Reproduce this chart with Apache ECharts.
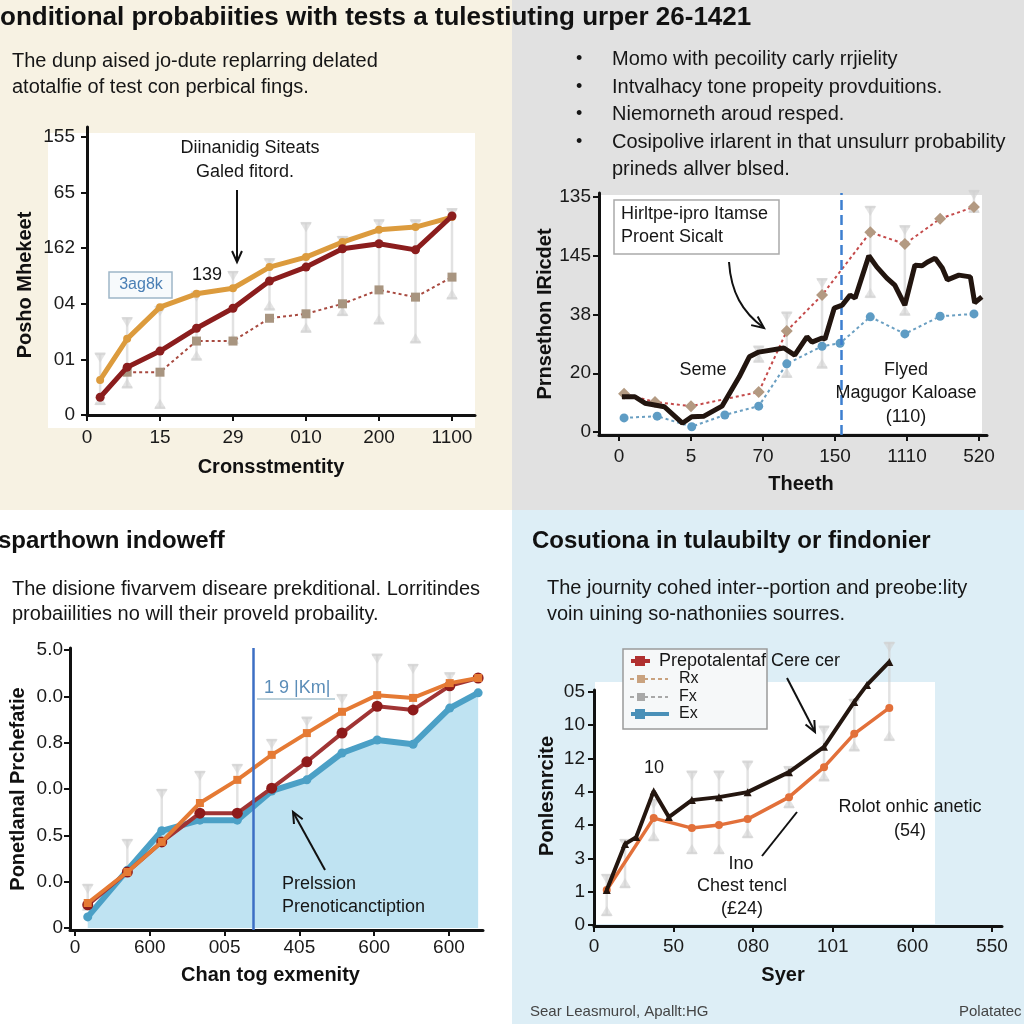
<!DOCTYPE html>
<html><head><meta charset="utf-8">
<script src="https://cdn.jsdelivr.net/npm/echarts@6/dist/echarts.min.js"></script>
<style>html,body{margin:0;padding:0;background:#fff}#c{width:1024px;height:1024px}</style>
</head><body><div id="c"></div>
<script>
// ---------- Panel 1 (top-left) ----------
const p1XLabels = ['0','15','29','010','200','1100'];
const p1YLabels = ['0','01','04','162','65','155'];
const p1X = [0.18,0.55,1.0,1.5,2.0,2.5,3.0,3.5,4.0,4.5,5.0];
const p1Orange = [0.63,1.37,1.94,2.18,2.28,2.66,2.84,3.11,3.33,3.38,3.56];
const p1Red = [0.32,0.86,1.15,1.56,1.92,2.41,2.66,2.99,3.08,2.97,3.58];
const p1DotX = [0.55,1.0,1.5,2.0,2.5,3.0,3.5,4.0,4.5,5.0];
const p1Dot = [0.77,0.77,1.33,1.33,1.74,1.82,2.0,2.25,2.12,2.48];
const p1ErrLo = [0.2,0.5,0.13,1.0,1.3,1.9,1.5,1.8,1.65,1.31,2.1];
const p1ErrHi = [1.1,1.74,1.94,2.2,2.57,2.8,3.45,3.2,3.5,3.5,3.7];

// ---------- Panel 2 (top-right) ----------
const p2XLabels = ['0','5','70','150','1110','520'];
const p2YLabels = ['0','20','38','145','135'];
const p2BlackX = [0.04,0.22,0.36,0.63,0.88,1.01,1.18,1.43,1.67,1.81,1.94,2.29,2.44,2.61,2.68,2.82,2.86,2.99,3.10,3.21,3.28,3.47,3.58,3.72,3.83,3.97,4.11,4.21,4.28,4.39,4.49,4.56,4.72,4.88,4.94,5.04];
const p2Black = [0.60,0.60,0.49,0.43,0.15,0.26,0.27,0.44,0.94,1.28,1.36,1.43,1.31,1.62,1.53,1.60,1.58,2.11,2.16,2.33,2.28,3.00,2.81,2.62,2.50,2.16,2.84,2.83,2.89,2.96,2.79,2.59,2.67,2.64,2.20,2.30];
const p2RedX = [0.07,0.5,1.0,1.94,2.33,2.82,3.49,3.97,4.46,4.93];
const p2Red = [0.65,0.51,0.44,0.68,1.72,2.33,3.40,3.20,3.63,3.83];
const p2BlueX = [0.07,0.53,1.01,1.47,1.94,2.33,2.82,3.07,3.49,3.97,4.46,4.93];
const p2Blue = [0.24,0.27,0.09,0.29,0.44,1.16,1.46,1.51,1.96,1.67,1.97,2.01];
const p2ErrX = [1.94,2.33,2.82,3.49,3.97,4.93];
const p2ErrLo = [1.2,0.94,1.1,2.3,2.0,3.75];
const p2ErrHi = [1.45,2.03,2.6,3.83,3.5,4.1];
const p2Marker = 3.08;

// ---------- Panel 3 (bottom-left) ----------
const p3XLabels = ['0','600','005','405','600','600'];
const p3YLabels = ['0','0.0','0.5','0.0','0.8','0.0','5.0'];
const p3X = [0.17,0.70,1.16,1.67,2.17,2.63,3.10,3.57,4.04,4.52,5.01,5.39];
const p3Blue = [0.24,1.25,2.10,2.33,2.33,2.96,3.20,3.78,4.06,3.97,4.75,5.08];
const p3Orange = [0.54,1.21,1.86,2.70,3.20,3.74,4.21,4.67,5.03,4.97,5.29,5.40];
const p3Red = [0.50,1.21,1.86,2.48,2.48,3.02,3.59,4.21,4.79,4.71,5.23,5.40];
const p3ErrLo = [0.4,0.45,1.25,1.73,1.64,2.4,2.48,3.26,3.56,3.52,4.21];
const p3ErrHi = [0.93,1.9,2.98,3.37,3.52,4.06,4.54,5.03,5.9,5.68,5.5];
const p3Marker = 2.38;

// ---------- Panel 4 (bottom-right) ----------
const p4XLabels = ['0','50','080','101','600','550'];
const p4YLabels = ['0','1','3','4','4','12','10','05'];
const p4BlackX = [0.16,0.39,0.53,0.75,0.94,1.23,1.57,1.93,2.45,2.89,3.27,3.43,3.71];
const p4Black = [1.05,2.43,2.64,4.02,3.24,3.75,3.84,3.99,4.59,5.35,6.70,7.21,7.90];
const p4OrangeX = [0.16,0.75,1.23,1.57,1.93,2.45,2.89,3.27,3.71];
const p4Orange = [1.05,3.21,2.91,3.00,3.18,3.84,4.74,5.74,6.52];
const p4ErrX = [0.16,0.39,0.75,1.23,1.57,1.93,2.45,2.89,3.27,3.71];
const p4ErrLo = [0.3,1.14,2.55,2.16,2.16,2.64,3.54,4.35,5.25,5.56];
const p4ErrHi = [1.5,2.55,3.75,4.6,4.6,4.9,4.74,5.95,6.76,8.47];
const p4Marker = 2.90;

const FONT = '"Liberation Sans", Arial, Helvetica, sans-serif';
const zip = (xs, ys) => xs.map((x, i) => [x, ys[i]]);
const zip3 = (xs, a, b) => xs.map((x, i) => [x, a[i], b[i]]);
const idx = arr => arr.map((_, i) => i);

function axisCfg(gi, labels, min, max, name, gap, pad, margin) {
  return {
    type: 'value', gridIndex: gi, min, max,
    axisLine: {show: true, onZero: false, lineStyle: {color: '#111', width: 3}},
    axisTick: {show: true, customValues: idx(labels), length: 6, lineStyle: {color: '#111', width: 2}},
    axisLabel: {customValues: idx(labels), formatter: v => labels[Math.round(v)], fontSize: 19, color: '#1a1a1a', margin, fontFamily: FONT},
    splitLine: {show: false},
    name, nameLocation: 'middle', nameGap: gap,
    nameTextStyle: {fontWeight: 'bold', fontSize: 20, color: '#111', fontFamily: FONT, padding: pad}
  };
}

function errRender(params, api) {
  const x = api.value(0), lo = api.value(1), hi = api.value(2);
  const a = api.coord([x, lo]), b = api.coord([x, hi]);
  const w = 5, st = {stroke: '#cfcfcf', lineWidth: 2.5, opacity: 0.6};
  const f = {fill: '#d2d2d2', opacity: 0.6};
  return {type: 'group', children: [
    {type: 'line', shape: {x1: a[0], y1: a[1], x2: b[0], y2: b[1]}, style: st},
    {type: 'line', shape: {x1: a[0] - w, y1: a[1], x2: a[0] + w, y2: a[1]}, style: st},
    {type: 'line', shape: {x1: b[0] - w, y1: b[1], x2: b[0] + w, y2: b[1]}, style: st},
    {type: 'polygon', shape: {points: [[a[0], a[1] - 9], [a[0] - 6, a[1] + 1], [a[0] + 6, a[1] + 1]]}, style: f},
    {type: 'polygon', shape: {points: [[b[0], b[1] + 9], [b[0] - 6, b[1] - 1], [b[0] + 6, b[1] - 1]]}, style: f}
  ]};
}
function errSeries(i, data) {
  return {type: 'custom', xAxisIndex: i, yAxisIndex: i, renderItem: errRender, data, clip: false, z: 1, silent: true};
}

function txt(x, y, text, o) {
  o = o || {};
  return {type: 'text', x, y, z: 100, silent: true, style: {text, fill: o.fill || '#161616', font: (o.bold ? 'bold ' : '') + (o.size || 20) + 'px ' + FONT, textAlign: o.align || 'left', textVerticalAlign: 'middle'}};
}
function arrow(x1, y1, x2, y2, s) {
  s = s || 11;
  const a = Math.atan2(y2 - y1, x2 - x1);
  const bx = x2 - s * Math.cos(a), by = y2 - s * Math.sin(a);
  const px = -Math.sin(a) * s * 0.45, py = Math.cos(a) * s * 0.45;
  return [
    {type: 'line', z: 90, shape: {x1, y1, x2: x2 - 2 * Math.cos(a), y2: y2 - 2 * Math.sin(a)}, style: {stroke: '#111', lineWidth: 2}},
    {type: 'polyline', z: 90, shape: {points: [[bx + px, by + py], [x2, y2], [bx - px, by - py]]}, style: {stroke: '#111', lineWidth: 2, fill: null}}
  ];
}
function rect(x, y, w, h, fill, stroke, z) {
  return {type: 'rect', z: z == null ? -10 : z, silent: true, shape: {x, y, width: w, height: h}, style: {fill, stroke: stroke || null, lineWidth: 1.5}};
}

// curved arrow in panel 2
const curveHead = (() => {
  const ex = 764, ey = 328, cx = 748, cy = 316;
  const a = Math.atan2(ey - cy, ex - cx), s = 12;
  const bx = ex - s * Math.cos(a), by = ey - s * Math.sin(a);
  const px = -Math.sin(a) * s * 0.45, py = Math.cos(a) * s * 0.45;
  return {type: 'polyline', z: 90, shape: {points: [[bx + px, by + py], [ex, ey], [bx - px, by - py]]}, style: {stroke: '#111', lineWidth: 2, fill: null}};
})();

const graphics = [
  // backgrounds
  rect(0, 0, 512, 510, '#f7f2e3'),
  rect(512, 0, 512, 510, '#e1e1e1'),
  rect(0, 510, 512, 514, '#ffffff'),
  rect(512, 510, 512, 514, '#ddeef6'),
  rect(48, 133, 427, 295, '#ffffff', null, -9),
  rect(600, 195, 382, 238, '#ffffff', null, -9),
  rect(595, 682, 340, 242, '#ffffff', null, -9),
  // main title
  txt(0, 18, 'onditional probabiities with tests a tulestiuting urper 26-1421', {bold: true, size: 26, fill: '#111'}),
  // panel 1 text
  txt(12, 61, 'The dunp aised jo-dute replarring delated'),
  txt(12, 87, 'atotalfie of test con perbical fings.'),
  txt(250, 148, 'Diinanidig Siteats', {align: 'center', size: 18}),
  txt(245, 172, 'Galed fitord.', {align: 'center', size: 18}),
  ...arrow(237, 190, 237, 262),
  txt(207, 275, '139', {align: 'center', size: 18}),
  rect(109, 272, 63, 26, '#f7fafc', '#9fb6c8', 60),
  txt(141, 285, '3ag8k', {align: 'center', size: 16, fill: '#4a7fb5'}),
  // panel 2 bullets
  ...[59, 87, 114, 142].map(y => txt(576, y, '•', {size: 18})),
  txt(612, 59, 'Momo with pecoility carly rrjielity'),
  txt(612, 87, 'Intvalhacy tone propeity provduitions.'),
  txt(612, 114, 'Niemorneth aroud resped.'),
  txt(612, 142, 'Cosipolive irlarent in that unsulurr probability'),
  txt(612, 169, 'prineds allver blsed.'),
  rect(614, 200, 165, 54, '#ffffff', '#aaaaaa', 60),
  txt(621, 214, 'Hirltpe-ipro Itamse', {size: 18}),
  txt(621, 237, 'Proent Sicalt', {size: 18}),
  {type: 'bezierCurve', z: 90, shape: {x1: 729, y1: 262, cpx1: 731, cpy1: 292, cpx2: 742, cpy2: 312, x2: 764, y2: 328}, style: {stroke: '#111', lineWidth: 2, fill: null}},
  curveHead,
  txt(703, 370, 'Seme', {align: 'center', size: 18}),
  txt(906, 370, 'Flyed', {align: 'center', size: 18}),
  txt(906, 393, 'Magugor Kaloase', {align: 'center', size: 18}),
  txt(906, 417, '(110)', {align: 'center', size: 18}),
  // panel 3 text
  txt(-2, 541, 'sparthown indoweff', {bold: true, size: 24, fill: '#111'}),
  txt(12, 589, 'The disione fivarvem diseare prekditional. Lorritindes'),
  txt(12, 614, 'probaiilities no will their proveld probaility.'),
  txt(264, 688, '1 9 |Km|', {size: 18, fill: '#5b8db8'}),
  {type: 'line', z: 60, shape: {x1: 257, y1: 699, x2: 335, y2: 699}, style: {stroke: '#a9c3cf', lineWidth: 1.5}},
  ...arrow(325, 870, 293, 812),
  txt(282, 884, 'Prelssion', {size: 18}),
  txt(282, 907, 'Prenoticanctiption', {size: 18}),
  // panel 4 text
  txt(532, 541, 'Cosutiona in tulaubilty or findonier', {bold: true, size: 24, fill: '#111'}),
  txt(547, 588, 'The journity cohed inter--portion and preobe:lity'),
  txt(547, 614, 'voin uining so-nathoniies sourres.'),
  rect(623, 649, 144, 80, '#f6f8f9', '#9a9a9a', 60),
  {type: 'line', z: 70, shape: {x1: 631, y1: 661, x2: 650, y2: 661}, style: {stroke: '#b03030', lineWidth: 4}},
  rect(635, 656, 10, 10, '#b03030', null, 71),
  txt(659, 661, 'Prepotalentaf Cere cer', {size: 18}),
  {type: 'line', z: 70, shape: {x1: 630, y1: 679, x2: 668, y2: 679}, style: {stroke: '#c9a27f', lineWidth: 2, lineDash: [4, 3]}},
  rect(637, 675, 8, 8, '#c9a27f', null, 71),
  txt(679, 679, 'Rx', {size: 16}),
  {type: 'line', z: 70, shape: {x1: 630, y1: 697, x2: 668, y2: 697}, style: {stroke: '#a8a8a8', lineWidth: 2, lineDash: [4, 3]}},
  rect(637, 693, 8, 8, '#a8a8a8', null, 71),
  txt(679, 697, 'Fx', {size: 16}),
  {type: 'line', z: 70, shape: {x1: 631, y1: 714, x2: 669, y2: 714}, style: {stroke: '#4a90b8', lineWidth: 4}},
  rect(635, 709, 10, 10, '#4a90b8', null, 71),
  txt(679, 714, 'Ex', {size: 16}),
  ...arrow(787, 678, 815, 732),
  txt(654, 768, '10', {align: 'center', size: 18}),
  txt(910, 807, 'Rolot onhic anetic', {align: 'center', size: 18}),
  txt(910, 831, '(54)', {align: 'center', size: 18}),
  {type: 'line', z: 90, shape: {x1: 797, y1: 812, x2: 762, y2: 856}, style: {stroke: '#111', lineWidth: 2}},
  txt(741, 864, 'Ino', {align: 'center', size: 18}),
  txt(742, 886, 'Chest tencl', {align: 'center', size: 18}),
  txt(742, 909, '(£24)', {align: 'center', size: 18}),
  // footer
  txt(530, 1012, 'Sear Leasmurol, Apallt:HG', {size: 15, fill: '#444'}),
  txt(959, 1012, 'Polatatec', {size: 15, fill: '#444'})
];

const vline = (x, color, type, y0, y1) => ({
  silent: true, symbol: 'none', label: {show: false},
  lineStyle: {color, type, width: 2.5},
  data: y0 == null ? [{xAxis: x}] : [[{coord: [x, y0]}, {coord: [x, y1]}]]
});

const option = {
  animation: false,
  backgroundColor: '#ffffff',
  grid: [
    {left: 87, top: 127, width: 388, height: 288},
    {left: 599, top: 193, width: 388, height: 242},
    {left: 70, top: 648, width: 413, height: 282},
    {left: 594, top: 690, width: 408, height: 236}
  ],
  xAxis: [
    axisCfg(0, p1XLabels, 0, 5.315, 'Cronsstmentity', 42, [0, 20, 0, 0], 13),
    axisCfg(1, p2XLabels, -0.278, 5.111, 'Theeth', 39, [0, 0, 0, 16], 12),
    axisCfg(2, p3XLabels, -0.067, 5.455, 'Chan tog exmenity', 35, [0, 12, 0, 0], 8),
    axisCfg(3, p4XLabels, 0, 5.126, 'Syer', 39, [0, 30, 0, 0], 11)
  ],
  yAxis: [
    axisCfg(0, p1YLabels, 0, 5.18, 'Posho Mhekeet', 52, [0, 28, 0, 0], 12),
    axisCfg(1, p2YLabels, -0.051, 4.068, 'Prnsethon IRicdet', 44, 0, 8),
    axisCfg(2, p3YLabels, -0.043, 6.048, 'Ponetlanal Prchefatie', 42, 0, 7),
    axisCfg(3, p4YLabels, -0.03, 7.057, 'Ponlesnrcite', 37, [0, 0, 0, 24], 9)
  ],
  graphic: {elements: graphics},
  series: [
    // panel 1
    errSeries(0, zip3(p1X, p1ErrLo, p1ErrHi)),
    {type: 'line', xAxisIndex: 0, yAxisIndex: 0, data: zip(p1DotX, p1Dot), symbol: 'rect', symbolSize: 9,
      lineStyle: {color: '#a84a40', width: 2, type: [3, 3]}, itemStyle: {color: '#a89580'}, z: 3},
    {type: 'line', xAxisIndex: 0, yAxisIndex: 0, data: zip(p1X, p1Orange), symbol: 'circle', symbolSize: 8,
      lineStyle: {color: '#dc9b3d', width: 5}, itemStyle: {color: '#dc9b3d'}, z: 4},
    {type: 'line', xAxisIndex: 0, yAxisIndex: 0, data: zip(p1X, p1Red), symbol: 'circle', symbolSize: 9,
      lineStyle: {color: '#8b1d1d', width: 5}, itemStyle: {color: '#8b1d1d'}, z: 5},
    // panel 2
    errSeries(1, zip3(p2ErrX, p2ErrLo, p2ErrHi)),
    {type: 'line', xAxisIndex: 1, yAxisIndex: 1, data: zip(p2RedX, p2Red), symbol: 'diamond', symbolSize: 12,
      lineStyle: {color: '#c44a4a', width: 2, type: [3, 3]}, itemStyle: {color: '#b39a82'}, z: 3},
    {type: 'line', xAxisIndex: 1, yAxisIndex: 1, data: zip(p2BlueX, p2Blue), symbol: 'circle', symbolSize: 9,
      lineStyle: {color: '#6a9fc2', width: 2, type: [3, 3]}, itemStyle: {color: '#5e9cc4'}, z: 3},
    {type: 'line', xAxisIndex: 1, yAxisIndex: 1, data: zip(p2BlackX, p2Black), symbol: 'none',
      lineStyle: {color: '#22150f', width: 5}, z: 5,
      markLine: vline(p2Marker, '#3d7fd0', 'dashed')},
    // panel 3
    errSeries(2, zip3(p3X.slice(0, 11), p3ErrLo, p3ErrHi)),
    {type: 'line', xAxisIndex: 2, yAxisIndex: 2, data: zip(p3X, p3Blue), symbol: 'circle', symbolSize: 9,
      lineStyle: {color: '#4ba0c6', width: 6}, itemStyle: {color: '#4ba0c6'},
      areaStyle: {color: '#bfe3f2', opacity: 1}, z: 2,
      markLine: vline(p3Marker, '#3d6fc4', 'solid')},
    {type: 'line', xAxisIndex: 2, yAxisIndex: 2, data: zip(p3X, p3Red), symbol: 'circle', symbolSize: 11,
      lineStyle: {color: '#a03434', width: 4}, itemStyle: {color: '#8e1b1b'}, z: 3},
    {type: 'line', xAxisIndex: 2, yAxisIndex: 2, data: zip(p3X, p3Orange), symbol: 'rect', symbolSize: 8,
      lineStyle: {color: '#e57a34', width: 4}, itemStyle: {color: '#e57a34'}, z: 4},
    // panel 4
    errSeries(3, zip3(p4ErrX, p4ErrLo, p4ErrHi)),
    {type: 'line', xAxisIndex: 3, yAxisIndex: 3, data: zip(p4OrangeX, p4Orange), symbol: 'circle', symbolSize: 8,
      lineStyle: {color: '#e2703a', width: 3.5}, itemStyle: {color: '#e2703a'}, z: 3, clip: false,
      markLine: vline(p4Marker, '#9a9a9a', 'dashed', -0.45, 6)},
    {type: 'line', xAxisIndex: 3, yAxisIndex: 3, data: zip(p4BlackX, p4Black), symbol: 'triangle', symbolSize: 8,
      lineStyle: {color: '#24160f', width: 4}, itemStyle: {color: '#24160f'}, z: 4, clip: false}
  ]
};

const chart = echarts.init(document.getElementById('c'), null, {renderer: 'canvas'});
chart.setOption(option);
</script>
</body></html>
